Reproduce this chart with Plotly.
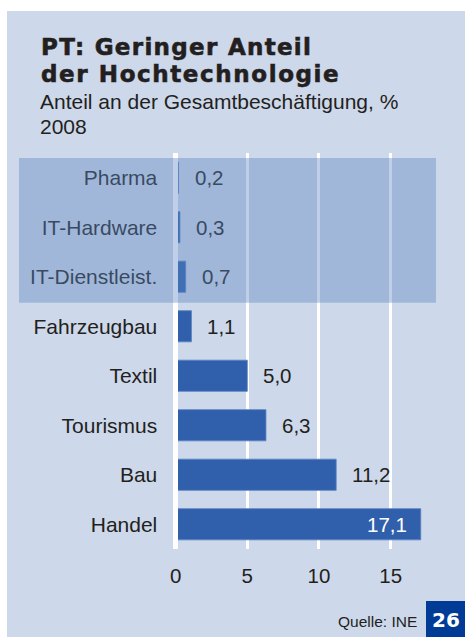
import plotly.graph_objects as go

# ---- data ----
categories = ["Pharma", "IT-Hardware", "IT-Dienstleist.", "Fahrzeugbau",
              "Textil", "Tourismus", "Bau", "Handel"]
values = [0.2, 0.3, 0.7, 1.1, 5.0, 6.3, 11.2, 17.1]
highlighted = ["Pharma", "IT-Hardware", "IT-Dienstleist."]
x_ticks = [0, 5, 10, 15]
x_tick_labels = ["0", "5", "10", "15"]

title_lines = ["PT: Geringer Anteil", "der Hochtechnologie"]
subtitle_lines = ["Anteil an der Gesamtbeschäftigung, %", "2008"]
source_text = "Quelle: INE"
page_number = "26"

W, H = 465, 637
def px(x):
    return x / W
def py(y):
    return 1 - y / H

TEXT = "#231f20"
BAR = "#3060ab"
PANEL = "#cdd8ea"
FONT = "Liberation Sans, Arial, sans-serif"
TITLE_FONT = "DejaVu Sans, sans-serif"

fig = go.Figure()
fig.add_trace(go.Bar(
    x=values, y=categories, orientation="h",
    marker=dict(color=BAR, line=dict(color="#5a80c2", width=0.8)),
    hoverinfo="skip", showlegend=False,
))

annotations = []
vmax = max(values)
for c, v in zip(categories, values):
    label = f"{v:.1f}".replace(".", ",")
    if v == vmax:
        annotations.append(dict(x=v, y=c, xref="x", yref="y", text=label,
                                showarrow=False, xanchor="right", xshift=-12,
                                font=dict(family=FONT, size=20.5, color="white")))
    else:
        col = "rgb(57,75,98)" if c in highlighted else TEXT
        annotations.append(dict(x=v, y=c, xref="x", yref="y", text=label,
                                showarrow=False, xanchor="left", xshift=14,
                                font=dict(family=FONT, size=20.5, color=col)))

# Title (two lines in one text; outer size sets the 27px line pitch)
title_style = "font-size:23px;stroke:%s;stroke-width:0.6px;letter-spacing:%spx"
title_text = (f"<span style='{title_style % (TEXT, 1.3)}'><b>{title_lines[0]}</b></span><br>"
              f"<span style='{title_style % (TEXT, 1.6)}'><b>{title_lines[1]}</b></span>")
annotations.append(dict(x=px(39), y=py(61), xref="paper", yref="paper",
                        text=title_text, align="left",
                        showarrow=False, xanchor="left", yanchor="middle",
                        font=dict(family=TITLE_FONT, size=20.77, color=TEXT)))
annotations.append(dict(x=px(38), y=py(101.5), xref="paper", yref="paper",
                        text=subtitle_lines[0], showarrow=False,
                        xanchor="left", yanchor="middle",
                        font=dict(family=FONT, size=21, color=TEXT)))
annotations.append(dict(x=px(38), y=py(126.5), xref="paper", yref="paper",
                        text=subtitle_lines[1], showarrow=False,
                        xanchor="left", yanchor="middle",
                        font=dict(family=FONT, size=21, color=TEXT)))
annotations.append(dict(x=px(419), y=py(621), xref="paper", yref="paper",
                        text=source_text, showarrow=False,
                        xanchor="right", yanchor="middle",
                        font=dict(family=FONT, size=15.5, color=TEXT)))
annotations.append(dict(x=px(445.5), y=py(620), xref="paper", yref="paper",
                        text=f"<b>{page_number}</b>", showarrow=False,
                        xanchor="center", yanchor="middle",
                        font=dict(family=TITLE_FONT, size=20, color="white")))

shapes = [
    # panel background
    dict(type="rect", xref="paper", yref="paper", x0=px(7), x1=1, y0=0, y1=py(11),
         fillcolor=PANEL, line=dict(width=0), layer="below"),
    # highlight band (semi-transparent overlay)
    dict(type="rect", xref="paper", yref="paper", x0=px(19), x1=px(436),
         y0=py(302.7), y1=py(158), fillcolor="rgb(92,136,194)", opacity=0.4,
         line=dict(width=0), layer="above"),
    # page number box
    dict(type="rect", xref="paper", yref="paper", x0=px(426), x1=1, y0=0, y1=py(601),
         fillcolor="#003c96", line=dict(width=0), layer="above"),
]

fig.update_layout(
    width=W, height=H,
    margin=dict(l=0, r=0, t=0, b=0),
    paper_bgcolor="white",
    plot_bgcolor="rgba(0,0,0,0)",
    bargap=0.37,
    xaxis=dict(domain=[px(168.5), px(440.8)], range=[-0.5, 18.5],
               tickvals=x_ticks, ticktext=x_tick_labels,
               showgrid=True, gridcolor="white", gridwidth=3,
               zeroline=True, zerolinecolor="white", zerolinewidth=5,
               showline=False, ticks="outside", ticklen=8,
               tickcolor="rgba(0,0,0,0)",
               tickfont=dict(family=FONT, size=20.5, color=TEXT),
               fixedrange=True, automargin=False),
    yaxis=dict(domain=[py(549), py(153)], autorange="reversed",
               showgrid=False, zeroline=False, showline=False,
               ticks="outside", ticklen=6, tickcolor="rgba(0,0,0,0)",
               tickfont=dict(family=FONT, size=21, color=TEXT),
               fixedrange=True, automargin=False),
    annotations=annotations,
    shapes=shapes,
)

# draw the white zero line over the bars' left edge, if supported
try:
    fig.update_xaxes(zerolinelayer="above traces")
except Exception:
    pass

fig.write_html(
    "out.html",
    config={"displayModeBar": False},
    post_script="document.body.style.margin='0';document.body.style.padding='0';"
                "document.documentElement.style.margin='0';",
)
